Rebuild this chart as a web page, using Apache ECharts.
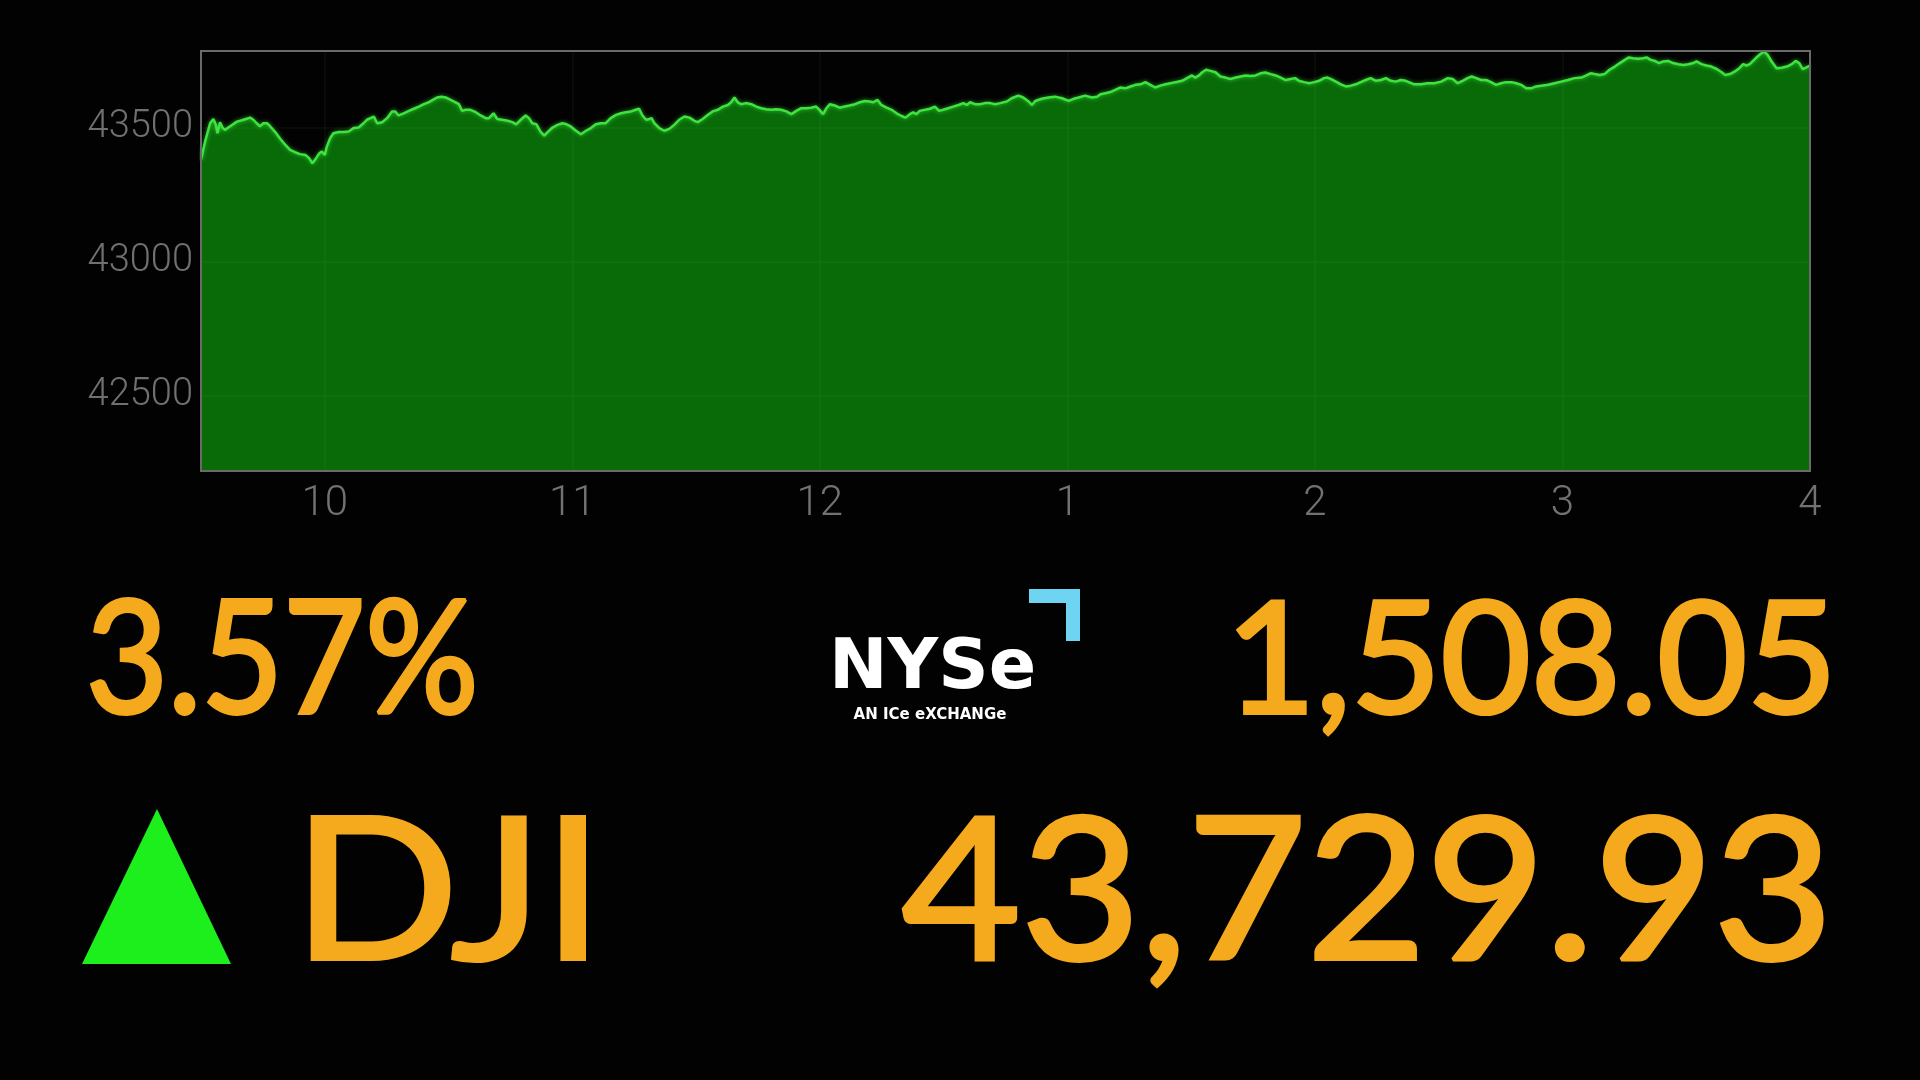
<!DOCTYPE html>
<html>
<head>
<meta charset="utf-8">
<script src="https://cdn.jsdelivr.net/npm/echarts@6/dist/echarts.min.js"></script>
<style>
html,body{margin:0;padding:0;background:#020202;}
#chart{width:1920px;height:1080px;}
</style>
</head>
<body>
<div id="chart"></div>
<script>
// minutes after 9:30 and DJI index level
const minutes = [0,1.0,2.2,3.0,3.6,4.0,4.6,5.2,5.8,6.6,7.6,8.7,9.9,10.9,11.9,12.7,13.5,14.3,15.1,16.0,16.8,18.0,19.2,20.4,21.6,22.8,24.0,25.3,26.2,27.0,27.9,28.7,29.3,30.0,30.5,31.3,32.1,33.4,34.6,35.8,37.0,38.2,39.4,40.2,41.1,41.9,42.7,43.9,45.1,46.3,47.1,47.9,49.1,50.4,51.6,52.8,54.0,55.2,56.2,57.2,58.3,59.3,60.5,61.7,62.5,63.3,64.1,65.3,66.6,67.8,69.0,69.8,70.9,71.8,73.0,74.3,75.5,76.4,77.5,78.7,79.5,80.3,81.3,82.3,83.2,84.0,85.2,86.4,87.6,88.6,89.6,90.9,92.1,93.3,94.5,95.7,96.9,98.1,
99.3,100.6,101.8,103.0,104.2,105.4,106.2,107.0,107.9,108.7,109.2,109.9,111.1,112.3,113.5,114.7,115.9,117.2,118.4,119.6,120.4,121.6,122.8,124.0,125.3,126.5,127.7,128.5,129.3,130.1,130.9,132.1,133.4,134.6,135.8,137.0,138.2,139.4,140.6,141.9,143.1,144.3,145.5,146.7,147.9,149.1,149.9,150.8,151.6,152.4,153.6,154.8,156.0,157.2,158.5,159.7,160.9,162.1,162.9,164.0,164.9,166.2,167.4,168.6,169.8,170.8,171.8,172.6,173.4,174.2,175.5,176.7,177.9,178.9,179.9,181.1,182.3,183.6,184.8,185.6,186.4,187.6,188.8,190.0,191.3,192.5,193.7,
195.3,196.5,198.1,199.3,200.6,201.4,202.2,203.8,205.4,207.0,208.7,210.3,211.5,212.7,214.3,215.9,217.2,218.0,219.2,220.4,221.6,222.8,224.0,225.3,226.5,227.7,228.9,230.1,231.3,232.5,233.8,235.0,236.2,237.8,239.0,240.2,241.0,241.9,242.7,243.6,244.7,245.9,247.1,248.3,249.5,250.8,252.0,253.2,254.4,255.6,256.8,258.0,259.3,260.5,261.7,262.9,264.1,265.2,266.1,267.4,268.6,269.8,271.0,272.2,273.0,273.8,275.1,276.3,277.5,278.7,279.9,281.1,282.3,283.5,284.8,286.0,287.2,288.4,289.6,290.8,292.0,
294.1,295.7,297.3,298.9,300.6,302.2,303.4,304.6,305.8,307.0,308.0,309.1,310.3,311.5,312.7,313.9,315.1,316.3,317.6,318.8,320.0,321.2,322.4,323.6,324.9,326.5,328.1,329.7,331.3,332.9,334.6,335.8,336.8,337.8,339.0,340.2,341.4,342.7,343.9,345.1,346.1,347.1,348.3,349.5,350.4,351.4,352.4,353.4,354.4,355.6,356.8,358.1,359.3,360.5,361.7,362.5,363.7,364.9,366.1,367.4,368.6,369.4,370.6,371.8,373.0,373.8,374.6,375.4,376.7,377.9,378.9,379.7,380.7,381.9,383.1,384.4,385.6,386.5,387.4,388.2,389.0,390.0];
const dji = [43379,43447,43515,43531,43509,43478,43519,43499,43490,43499,43509,43521,43526,43531,43536,43528,43515,43503,43515,43515,43503,43482,43457,43435,43416,43407,43400,43397,43385,43366,43385,43403,43410,43397,43428,43459,43478,43482,43482,43484,43497,43499,43515,43528,43534,43540,43515,43519,43534,43559,43559,43544,43552,43561,43569,43577,43586,43593,43602,43611,43614,43611,43602,43593,43586,43561,43565,43565,43556,43544,43534,43534,43552,43531,43528,43524,43519,43511,43528,43544,43534,43515,43511,43484,43469,43482,43499,43509,43515,43511,43503,43487,43474,43487,43497,43511,43515,43515,
43534,43546,43552,43556,43559,43565,43569,43544,43528,43531,43534,43515,43497,43487,43494,43509,43528,43540,43536,43524,43519,43531,43546,43559,43565,43577,43583,43593,43611,43593,43586,43590,43586,43577,43571,43567,43565,43567,43565,43559,43549,43561,43571,43571,43573,43577,43565,43549,43571,43586,43581,43573,43577,43581,43586,43593,43598,43596,43593,43602,43583,43573,43565,43552,43542,43536,43549,43555,43549,43561,43565,43569,43577,43561,43565,43571,43577,43583,43590,43583,43593,43586,43586,43590,43590,43586,43590,
43596,43608,43618,43611,43596,43583,43598,43606,43611,43614,43608,43598,43606,43611,43618,43611,43614,43623,43627,43631,43639,43648,43645,43652,43658,43660,43668,43658,43648,43655,43660,43664,43668,43673,43683,43693,43685,43693,43705,43714,43710,43705,43689,43685,43680,43685,43689,43693,43691,43693,43701,43704,43698,43693,43685,43676,43680,43683,43673,43668,43664,43668,43673,43683,43685,43680,43670,43660,43652,43655,43660,43668,43676,43683,43673,43676,43683,43673,43670,43676,43673,
43660,43660,43664,43664,43670,43683,43680,43664,43673,43683,43689,43683,43676,43676,43668,43658,43664,43668,43668,43664,43658,43645,43645,43652,43655,43658,43664,43670,43676,43683,43685,43693,43701,43698,43695,43698,43714,43726,43739,43751,43760,43757,43755,43757,43760,43751,43747,43739,43745,43747,43739,43735,43732,43735,43739,43745,43735,43730,43726,43717,43705,43695,43698,43708,43722,43735,43730,43735,43755,43772,43782,43770,43745,43720,43722,43726,43735,43747,43739,43717,43722,43730];

// axis ticks
const hourTicks = [30, 90, 150, 210, 270, 330, 390];
const hourLabels = ['10', '11', '12', '1', '2', '3', '4'];
const yTicks = [42500, 43000, 43500];

// ticker panel text
const pctChange = '3.57%';
const ptChange = '1,508.05';
const symbol = 'DJI';
const lastPrice = '43,729.93';
const logoWord = 'NYSe';
const logoTag = 'AN ICe eXCHANGe';

const data = minutes.map((m, i) => [m, dji[i]]);

const chart = echarts.init(document.getElementById('chart'), null, {renderer: 'canvas'});
const ORANGE = '#f5aa1d';
const bigFont = 'Lato, "Noto Sans", sans-serif';

function bigText(text, x, y, size, align, extra) {
  return Object.assign({
    type: 'text', x: x, y: y, z: 5,
    style: {
      text: text, fill: ORANGE, stroke: ORANGE, lineWidth: 4, lineJoin: 'round',
      font: '400 ' + size + 'px ' + bigFont,
      align: align, verticalAlign: 'middle', textAlign: align, textVerticalAlign: 'middle'
    }
  }, extra || {});
}

chart.setOption({
  backgroundColor: '#020202',
  animation: false,
  grid: {
    left: 201, top: 51, right: 110, bottom: 609,
    show: true, z: 10, backgroundColor: 'transparent',
    borderColor: '#6a6a6a', borderWidth: 2
  },
  xAxis: {
    type: 'value', min: 0, max: 390, interval: 30,
    axisLine: {show: false}, axisTick: {show: false}, splitLine: {show: false},
    axisLabel: {
      margin: 12, color: '#727272', fontSize: 42, fontWeight: 300, fontFamily: 'Roboto, sans-serif',
      formatter: v => { const i = hourTicks.indexOf(v); return i >= 0 ? hourLabels[i] : ''; }
    }
  },
  yAxis: {
    type: 'value', min: 42220, max: 43784, interval: 20,
    axisLine: {show: false}, axisTick: {show: false}, splitLine: {show: false},
    axisLabel: {
      margin: 8, color: '#707070', fontSize: 38, fontWeight: 300, fontFamily: 'Roboto, sans-serif',
      formatter: v => yTicks.indexOf(v) >= 0 ? String(v) : ''
    }
  },
  series: [{
    type: 'line', data: data, showSymbol: false, smooth: false,
    lineStyle: {color: '#3fe33f', width: 2.5, shadowColor: 'rgba(80,255,80,0.6)', shadowBlur: 4},
    areaStyle: {color: '#086b08', opacity: 1, origin: 'start'},
    markLine: {
      silent: true, symbol: 'none', label: {show: false},
      lineStyle: {color: 'rgba(130,255,130,0.04)', width: 2, type: 'solid'},
      data: hourTicks.slice(0, 6).map(v => ({xAxis: v})).concat(yTicks.map(v => ({yAxis: v})))
    }
  }],
  graphic: [
    bigText(pctChange, 86, 662, 157, 'left', {scaleX: 0.9}),
    bigText(ptChange, 1837, 663, 155, 'right'),
    bigText(symbol, 293, 895, 198, 'left', {scaleX: 1.1}),
    bigText(lastPrice, 1833, 895, 198, 'right', {scaleX: 1.04}),
    {type: 'polygon', z: 5, shape: {points: [[82, 964], [157, 809], [231, 964]]}, style: {fill: '#1cef1c'}},
    {type: 'text', x: 829, y: 670, z: 5,
     style: {text: logoWord, fill: '#ffffff', font: 'bold 70px "DejaVu Sans", sans-serif', align: 'left', verticalAlign: 'middle', textAlign: 'left', textVerticalAlign: 'middle'}},
    {type: 'text', x: 930, y: 715, z: 5,
     style: {text: logoTag, fill: '#ffffff', font: 'bold 15px "DejaVu Sans", sans-serif', align: 'center', verticalAlign: 'middle', textAlign: 'center', textVerticalAlign: 'middle'}},
    {type: 'rect', z: 5, shape: {x: 1029, y: 589, width: 51, height: 14}, style: {fill: '#6fd3f2'}},
    {type: 'rect', z: 5, shape: {x: 1066, y: 589, width: 14, height: 52}, style: {fill: '#6fd3f2'}}
  ]
});
</script>
</body>
</html>
